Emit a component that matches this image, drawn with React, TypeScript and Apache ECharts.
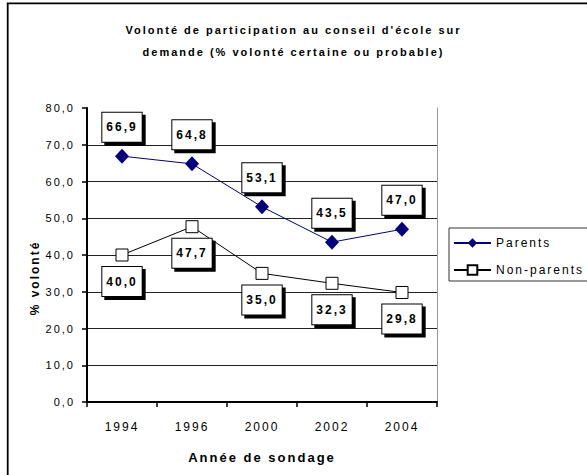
import React, { useEffect, useRef } from 'react';
import * as echarts from 'echarts';

const years = ['1994', '1996', '2000', '2002', '2004'];
const parents = [66.9, 64.8, 53.1, 43.5, 47.0];
const nonParents = [40.0, 47.7, 35.0, 32.3, 29.8];
const yMin = 0;
const yMax = 80;
const yStep = 10;

const titleText = "Volonté de participation au conseil d'école sur\ndemande (% volonté certaine ou probable)";
const xName = 'Année de sondage';
const yName = '% volonté';
const seriesNames = ['Parents', 'Non-parents'];

const FONT = '"Liberation Sans", Arial, Helvetica, sans-serif';
const fmt = (v: number) => v.toFixed(1).replace('.', ',');

const labelBox = {
  show: true,
  fontFamily: FONT,
  fontSize: 12,
  fontWeight: 'bold' as const,
  color: '#000',
  backgroundColor: '#fff',
  borderColor: '#000',
  borderWidth: 1,
  padding: [8.5, 8, 8.5, 8],
  shadowColor: '#000',
  shadowBlur: 0,
  shadowOffsetX: 3,
  shadowOffsetY: 3,
  formatter: (p: any) => fmt(p.value),
};

export default function App() {
  const ref = useRef<HTMLDivElement>(null);
  useEffect(() => {
    if (!ref.current) return;
    const chart = echarts.init(ref.current, undefined, { renderer: 'svg' });
    chart.setOption({
      animation: false,
      backgroundColor: '#fff',
      textStyle: { fontFamily: FONT },
      title: {
        text: titleText,
        left: 'center',
        top: 14,
        textStyle: { fontFamily: FONT, fontSize: 11, fontWeight: 'bold', color: '#000', lineHeight: 22 },
      },
      grid: { left: 87, right: 150, top: 108, bottom: 73 },
      legend: {
        orient: 'vertical',
        left: 449,
        top: 228,
        padding: [9, 45, 5, 4],
        itemWidth: 37,
        itemHeight: 12,
        itemGap: 15,
        borderColor: '#333',
        borderWidth: 1,
        backgroundColor: '#fff',
        textStyle: { fontFamily: FONT, fontSize: 12, color: '#000' },
        data: seriesNames,
      },
      xAxis: {
        type: 'category',
        data: years,
        boundaryGap: true,
        axisLine: { lineStyle: { color: '#000', width: 2 } },
        axisTick: { show: true, length: 5, lineStyle: { color: '#000', width: 1.5 } },
        axisLabel: { margin: 19, fontFamily: FONT, fontSize: 12, color: '#000' },
        name: xName,
        nameLocation: 'middle',
        nameGap: 49,
        nameTextStyle: { fontFamily: FONT, fontSize: 13, fontWeight: 'bold', color: '#000' },
      },
      yAxis: [
        {
          type: 'value',
          min: yMin,
          max: yMax,
          interval: yStep,
          axisLine: { show: true, lineStyle: { color: '#000', width: 2 } },
          axisTick: { show: true, length: 5, lineStyle: { color: '#000', width: 1.5 } },
          axisLabel: { margin: 12, fontFamily: FONT, fontSize: 11, color: '#000', formatter: fmt },
          splitLine: { show: true, showMinLine: false, showMaxLine: false, lineStyle: { color: '#222', width: 1 } },
          name: yName,
          nameLocation: 'middle',
          nameGap: 46,
          nameRotate: 90,
          nameTextStyle: { fontFamily: FONT, fontSize: 12, fontWeight: 'bold', color: '#000', padding: [0, 46, 0, 0] },
        },
        {
          type: 'value',
          position: 'right',
          min: yMin,
          max: yMax,
          interval: yStep,
          axisLine: { show: true, lineStyle: { color: '#999', width: 1 } },
          axisTick: { show: false },
          axisLabel: { show: false },
          splitLine: { show: false },
        },
      ],
      series: [
        {
          name: seriesNames[0],
          type: 'line',
          data: parents,
          symbol: 'diamond',
          symbolSize: [14, 15],
          itemStyle: { color: '#000080' },
          lineStyle: { color: '#000080', width: 1 },
          label: { ...labelBox, position: 'top', distance: 7 },
          z: 3,
        },
        {
          name: seriesNames[1],
          type: 'line',
          data: nonParents,
          symbol: 'rect',
          symbolSize: 12,
          itemStyle: { color: '#fff', borderColor: '#000', borderWidth: 1 },
          lineStyle: { color: '#000', width: 1 },
          label: { ...labelBox, position: 'bottom', distance: 5.5 },
          z: 2,
        },
      ],
      graphic: [
        {
          type: 'rect',
          silent: true,
          shape: { x: 7.7, y: 3.3, width: 700, height: 600 },
          style: { fill: 'none', stroke: '#000', lineWidth: 1.8 },
          z: 100,
        },
      ],
    });
    return () => chart.dispose();
  }, []);
  return (
    <>
      <style>{'#chart-root, #chart-root text { letter-spacing: 2px; }'}</style>
      <div
        id="chart-root"
        ref={ref}
        style={{ position: 'absolute', left: 0, top: 0, width: 587, height: 475, letterSpacing: '2px' }}
      />
    </>
  );
}
